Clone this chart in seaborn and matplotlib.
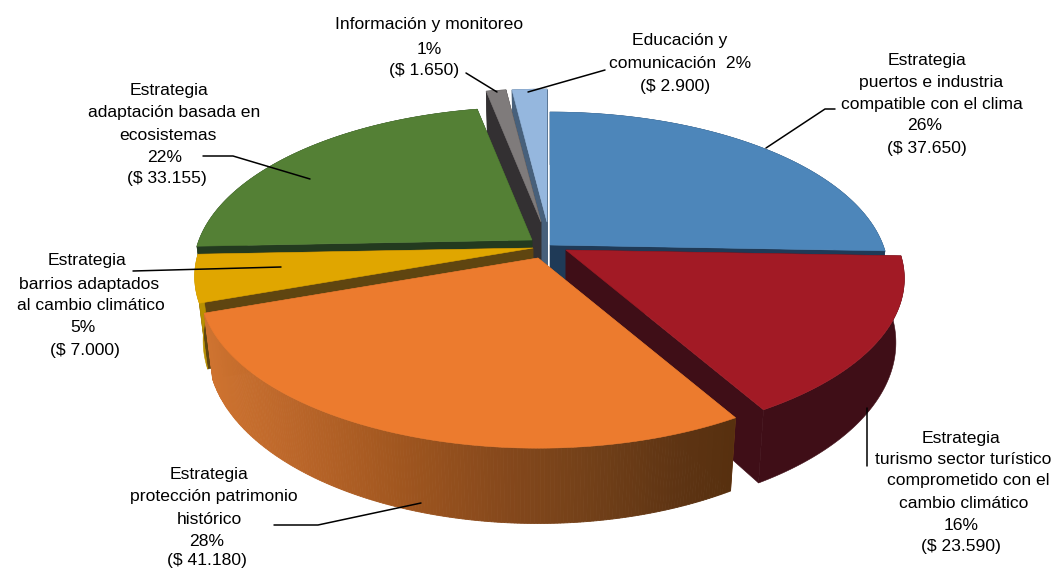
import numpy as np
import matplotlib
matplotlib.use("Agg")
import matplotlib.pyplot as plt
from matplotlib.colors import LinearSegmentedColormap
import seaborn as sns

# ---------- data ----------
strategy_names = [
    ["Estrategia", "puertos e industria", "compatible con el clima"],
    ["Estrategia", "turismo sector turístico", "comprometido con el", "cambio climático"],
    ["Estrategia", "protección patrimonio", "histórico"],
    ["Estrategia", "barrios adaptados", "al cambio climático"],
    ["Estrategia", "adaptación basada en", "ecosistemas"],
    ["Información y monitoreo"],
    ["Educación y"],
]
amounts = [37650, 23590, 41180, 7000, 33155, 1650, 2900]
percent_labels = ["26%", "16%", "28%", "5%", "22%", "1%", "2%"]

# ---------- style ----------
sns.set_theme(style="white")
plt.rcParams["font.family"] = ["Liberation Sans", "DejaVu Sans"]
top_colors = sns.color_palette(["#4D86BA", "#A21A25", "#EC7B2E", "#E0A600", "#548035", "#7F7B7B", "#95B7DE"])
side_colors = ["#1F3A57", "#3F0E17", "#9B5420", "#5F4510", "#233A1F", "#333032", "#47607B"]
rim_colors = ["#1F3A57", "#3F0E17", None, "#B89000", "#233A1F", "#333032", "#47607B"]
orange_rim = LinearSegmentedColormap.from_list(
    "rim", [(0.0, "#CE7330"), (0.155, "#BC672A"), (0.37, "#A0561F"), (0.555, "#87491C"),
            (0.75, "#703F18"), (0.9, "#5E3413"), (1.0, "#57300F")])

# perspective / explosion layout (pixels)
RX, RY, K, DEPTH, SHRINK = 333, 156.5, 0.177, 62, 0.975
PIE_SHIFT = [(550, 245), (566, 250), (538, 258), (533, 248), (532, 240), (541, 222), (547, 222)]
DRAW_ORDER = [6, 5, 0, 4, 3, 1, 2]

fig, ax = plt.subplots(figsize=(10.63, 5.68), dpi=100)
fig.subplots_adjust(0, 0, 1, 1)
ax.set_xlim(0, 1063)
ax.set_ylim(568, 0)
ax.axis("off")

values = np.asarray(amounts, float)
edges = np.concatenate([[0], np.cumsum(values)]) / values.sum() * 2 * np.pi


def project(theta, apex):
    u, v = np.sin(theta), np.cos(theta)
    s = 1 / (1 + K * v)
    return apex[0] + RX * u * s, apex[1] - RY * v * s, s


def lower(x, y, s, apex):
    return apex[0] + (x - apex[0]) * SHRINK, y + DEPTH * s


for i in DRAW_ORDER:
    apex = PIE_SHIFT[i]
    z = DRAW_ORDER.index(i) + 1
    th = np.linspace(edges[i], edges[i + 1], max(int((edges[i + 1] - edges[i]) * 120), 6))
    x, y, s = project(th, apex)
    bx, by = lower(x, y, s, apex)
    ax0, ay0 = apex[0], apex[1] + DEPTH
    # radial faces
    for k in (0, -1):
        ax.fill([apex[0], x[k], bx[k], ax0], [apex[1], y[k], by[k], ay0],
                color=side_colors[i], lw=0.4, zorder=z)
    # outer rim
    if rim_colors[i] is None:
        for j in range(len(th) - 1):
            c = orange_rim(np.clip((x[j] - 205) / (735 - 205), 0, 1))
            ax.fill([x[j], x[j + 1], bx[j + 1], bx[j]], [y[j], y[j + 1], by[j + 1], by[j]],
                    color=c, lw=0.6, zorder=z)
    else:
        ax.fill(np.r_[x, bx[::-1]], np.r_[y, by[::-1]], color=rim_colors[i], lw=0.4, zorder=z)
    # top face
    ax.fill(np.r_[apex[0], x], np.r_[apex[1], y], color=top_colors[i], lw=0.4, zorder=z)

# ---------- labels ----------
def money(v):
    return "($ " + f"{v:,}".replace(",", ".") + ")"


LABEL_XY = [
    [(927, 60), (931, 82), (932, 105), (925, 125), (927, 148)],
    [(961, 438), (963, 459), (968, 481), (964, 503), (961, 525), (961, 547)],
    [(209, 474), (214, 497), (209, 519), (207, 541), (207, 561)],
    [(87, 261), (89, 284), (91, 306), (83, 328), (85, 350)],
    [(169, 90), (174, 113), (168, 135), (165, 157), (167, 179)],
    [(429, 25), (429, 49), (424, 71)],
    [(680, 41), (680, 63), (675, 86)],
]
for i, names in enumerate(strategy_names):
    if i == 6:
        lines = names + ["comunicación  " + percent_labels[i], money(amounts[i])]
    else:
        lines = names + [percent_labels[i], money(amounts[i])]
    for line, (tx, ty) in zip(lines, LABEL_XY[i]):
        ax.text(tx, ty, line, ha="center", va="center", fontsize=12.6, color="black", zorder=20)

LEADERS = [
    ([766, 825, 835], [148, 109, 109]),
    ([867, 867], [408, 466]),
    ([274, 318, 421], [525, 525, 503]),
    ([133, 281], [271, 267]),
    ([203, 233, 310], [156, 156, 179]),
    ([466, 497], [73, 92]),
    ([605, 528], [70, 92]),
]
for lx, ly in LEADERS:
    ax.plot(lx, ly, color="black", lw=1.1, zorder=15)

fig.savefig("out.png", dpi=100)
